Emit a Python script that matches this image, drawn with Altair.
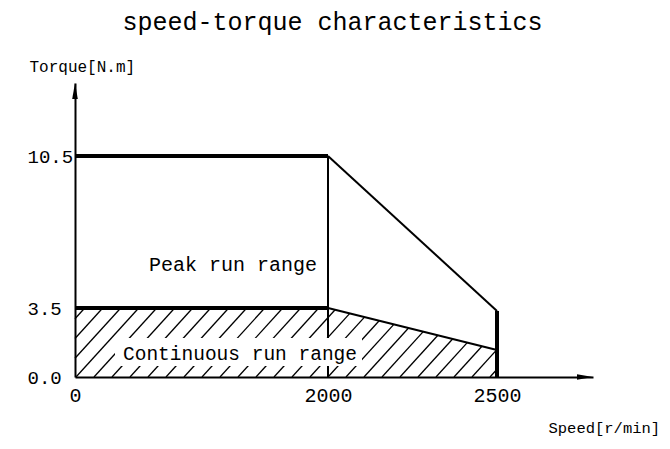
import numpy as np
import pandas as pd
import altair as alt

# ---- data ----
speed = [0, 2000, 2500]            # r/min
peak_torque = [10.5, 10.5, 3.35]   # N.m
cont_torque = [3.5, 3.5, 1.37]     # N.m
x_ticks = [0, 2000, 2500]
y_ticks = [0.0, 3.5, 10.5]
chart_title = "speed-torque characteristics"

FONT = "Liberation Mono"
W, H = 518, 294

# piecewise scales (the original drawing is not to scale)
X_DOMAIN = [0, 2000, 2500, 2784]
X_RANGE = [0, 253, 422, W]
Y_DOMAIN = [0, 3.5, 10.5, 13.86]
Y_RANGE = [H, 225, 73, 0]

xs = alt.Scale(domain=X_DOMAIN, range=X_RANGE, nice=False, zero=False)
ys = alt.Scale(domain=Y_DOMAIN, range=Y_RANGE, nice=False, zero=False)

x_axis = alt.Axis(values=x_ticks, format="d", title="Speed[r/min]", titleX=473, titleY=55,
                  titleAngle=0, titleAlign="left", titleBaseline="alphabetic",
                  titleFont=FONT, titleFontSize=15.5, titleFontWeight="normal",
                  titleColor="black", labelFont=FONT, labelFontSize=20,
                  labelColor="black", labelPadding=8, ticks=False, tickSize=0,
                  grid=False, domainColor="black", domainWidth=2,
                  labelFlush=False, labelOverlap=False)
y_axis = alt.Axis(values=y_ticks, format=".1f", title="Torque[N.m]", titleX=-46,
                  titleY=-12, titleAngle=0, titleAlign="left",
                  titleBaseline="alphabetic", titleFont=FONT, titleFontSize=16,
                  titleFontWeight="normal", titleColor="black", labelFont=FONT,
                  labelFontSize=19, labelColor="black", labelAlign="left",
                  labelBaseline="middle", labelPadding=48, ticks=False,
                  tickSize=0, grid=False, domainColor="black", domainWidth=2,
                  labelFlush=False, labelOverlap=False)


def X(f="x"):
    return alt.X(f"{f}:Q", scale=xs, axis=x_axis)


def Y(f="y"):
    return alt.Y(f"{f}:Q", scale=ys, axis=y_axis)


# ---- hatch for the continuous region, clipped to its polygon ----
def to_px(sx, ty):
    return float(np.interp(sx, X_DOMAIN, X_RANGE)), float(np.interp(ty, Y_DOMAIN, Y_RANGE))


def to_data(px, py):
    return float(np.interp(px, X_RANGE, X_DOMAIN)), float(np.interp(py, Y_RANGE[::-1], Y_DOMAIN[::-1]))


poly = [to_px(speed[0], 0), to_px(speed[0], cont_torque[0]), to_px(speed[1], cont_torque[1]),
        to_px(speed[2], cont_torque[2]), to_px(speed[2], 0)]
poly = np.array(poly)
cen = poly.mean(axis=0)
d = np.array([1.0, -1.1])
rows = []
for c in np.arange(-400, 440, 18) + 5:
    p0 = np.array([c, H])
    t0, t1 = -1e9, 1e9
    ok = True
    for i in range(len(poly)):
        vi, vj = poly[i], poly[(i + 1) % len(poly)]
        e = vj - vi
        n = np.array([-e[1], e[0]])
        if np.dot(n, cen - vi) < 0:
            n = -n
        num = np.dot(n, p0 - vi)
        den = np.dot(n, d)
        if abs(den) < 1e-12:
            if num < 0:
                ok = False
        elif den > 0:
            t0 = max(t0, -num / den)
        else:
            t1 = min(t1, -num / den)
    if ok and t1 - t0 > 0.5:
        a = p0 + t0 * d
        b = p0 + t1 * d
        xa, ya = to_data(*a)
        xb, yb = to_data(*b)
        rows.append({"x": xa, "y": ya, "x2": xb, "y2": yb})
hatch_df = pd.DataFrame(rows)

thin_df = pd.DataFrame({
    "x": [speed[1], speed[1], speed[1]],
    "y": [peak_torque[1], cont_torque[1], 0],
    "x2": [speed[2], speed[2], speed[1]],
    "y2": [peak_torque[2], cont_torque[2], peak_torque[1]],
})
vert2000 = thin_df.iloc[[2]]
diag = thin_df.iloc[[0, 1]]
thick_df = pd.DataFrame({
    "x": [speed[0], speed[0], speed[2]],
    "y": [peak_torque[0], cont_torque[0], 0],
    "x2": [speed[1], speed[1], speed[2]],
    "y2": [peak_torque[1], cont_torque[1], peak_torque[2]],
})

one = pd.DataFrame({"a": [0]})

hatch = alt.Chart(hatch_df).mark_rule(color="black", strokeWidth=1.3).encode(
    x=X(), y=Y(), x2="x2:Q", y2="y2:Q")
v2000 = alt.Chart(vert2000).mark_rule(color="black", strokeWidth=2).encode(
    x=X(), y=Y(), x2="x2:Q", y2="y2:Q")
box = alt.Chart(one).mark_rect(color="white").encode(
    x=alt.value(40), x2=alt.value(287), y=alt.value(255), y2=alt.value(283))
txt_peak = alt.Chart(one).mark_text(text="Peak run range", font=FONT, fontSize=20,
                                    color="black", align="center", baseline="alphabetic").encode(
    x=alt.value(158), y=alt.value(188))
txt_cont = alt.Chart(one).mark_text(text="Continuous run range", font=FONT, fontSize=19.5,
                                    color="black", align="center", baseline="alphabetic").encode(
    x=alt.value(165), y=alt.value(277))
txt_title = alt.Chart(one).mark_text(text=chart_title, font=FONT, fontSize=25,
                                     color="black", align="center", baseline="alphabetic").encode(
    x=alt.value(W / 2 - 1.5), y=alt.value(-53))
diag_l = alt.Chart(diag).mark_rule(color="black", strokeWidth=2).encode(
    x=X(), y=Y(), x2="x2:Q", y2="y2:Q")
thick = alt.Chart(thick_df).mark_rule(color="black", strokeWidth=4).encode(
    x=X(), y=Y(), x2="x2:Q", y2="y2:Q")
arrow_up = alt.Chart(one).mark_point(shape="M0,-1L0.35,1L-0.35,1Z", size=256, filled=True,
                                     color="black", opacity=1).encode(
    x=alt.value(0), y=alt.value(8))
arrow_right = alt.Chart(one).mark_point(shape="M1,0L-1,0.35L-1,-0.35Z", size=256, filled=True,
                                        color="black", opacity=1).encode(
    x=alt.value(W - 8), y=alt.value(H))

chart = alt.layer(hatch, v2000, box, txt_peak, txt_cont, txt_title, diag_l, thick,
                  arrow_up, arrow_right).properties(
    width=W, height=H,
    padding={"left": 67, "top": 75, "right": 69, "bottom": 64},
    autosize=alt.AutoSizeParams(type="none"),
).configure(background="white").configure_view(strokeWidth=0, strokeOpacity=0)

chart.save("out.html", embed_options={"renderer": "svg", "actions": False})
